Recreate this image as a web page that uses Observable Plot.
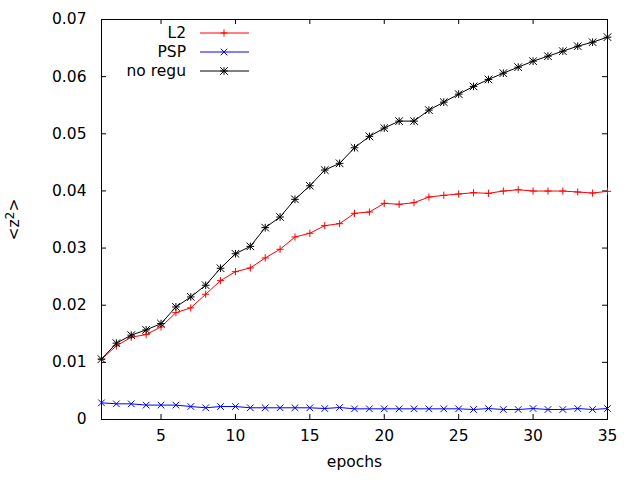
<!DOCTYPE html>
<html>
<head>
<meta charset="utf-8">
<script src="https://cdn.jsdelivr.net/npm/d3@7"></script>
<script src="https://cdn.jsdelivr.net/npm/@observablehq/plot@0.6"></script>
<style>
  html, body { margin: 0; padding: 0; background: #fff; }
  #wrap { position: relative; width: 640px; height: 480px; }
  #legend { position: absolute; left: 0; top: 0; }
</style>
</head>
<body>
<div id="wrap"></div>
<script>
const epochs = [1,2,3,4,5,6,7,8,9,10,11,12,13,14,15,16,17,18,19,20,21,22,23,24,25,26,27,28,29,30,31,32,33,34,35];
const l2 = [0.01056,0.01288,0.0144,0.01486,0.0162,0.0187,0.01953,0.02192,0.0243,0.02587,0.02652,0.02827,0.02979,0.03194,0.03259,0.03392,0.03427,0.03608,0.03631,0.03783,0.03766,0.03794,0.03893,0.03923,0.03946,0.03969,0.03958,0.03998,0.04021,0.03998,0.03998,0.03998,0.03981,0.03963,0.03993];
const psp = [0.00292,0.00274,0.00274,0.00252,0.00252,0.00252,0.00227,0.00205,0.00227,0.00227,0.00205,0.00205,0.00205,0.00205,0.00205,0.00192,0.0021,0.00187,0.00187,0.00187,0.00187,0.00187,0.00187,0.00187,0.00187,0.00175,0.00192,0.00175,0.00175,0.00192,0.00175,0.00175,0.00192,0.00175,0.00192];
const noRegu = [0.01056,0.01336,0.01476,0.01568,0.01678,0.0197,0.02145,0.0235,0.02647,0.029,0.0303,0.03357,0.03544,0.03853,0.0409,0.04365,0.04483,0.04755,0.04955,0.051,0.05222,0.05222,0.05414,0.05554,0.05694,0.05829,0.05951,0.06061,0.06166,0.06271,0.06358,0.06446,0.06533,0.06603,0.06691];
const seriesNames = ["L2", "PSP", "no regu"];
const seriesColors = ["#ff0000", "#0000ff", "#000000"];
const xTicks = [5,10,15,20,25,30,35];
const yTicks = [0,0.01,0.02,0.03,0.04,0.05,0.06,0.07];
const xLabel = "epochs";
const yLabelParts = ["<z", "2", ">"];

const FONT = "DejaVu Sans, sans-serif";
const FS = 15.5;

const plusSym = {draw(ctx, size) { const r = Math.sqrt(size / Math.PI); ctx.moveTo(-r, 0); ctx.lineTo(r, 0); ctx.moveTo(0, -r); ctx.lineTo(0, r); }};
const timesSym = {draw(ctx, size) { const r = Math.sqrt(size / Math.PI); ctx.moveTo(-r, -r); ctx.lineTo(r, r); ctx.moveTo(-r, r); ctx.lineTo(r, -r); }};
const starSym = {draw(ctx, size) { const r = Math.sqrt(size / Math.PI); ctx.moveTo(-r, 0); ctx.lineTo(r, 0); ctx.moveTo(0, -r); ctx.lineTo(0, r); ctx.moveTo(-r, -r); ctx.lineTo(r, r); ctx.moveTo(-r, r); ctx.lineTo(r, -r); }};
const symbols = [plusSym, timesSym, starSym];
const symR = [3.6, 3.3, 3.8];

const values = [l2, psp, noRegu];
const data = [];
seriesNames.forEach((name, s) => epochs.forEach((e, i) => data.push({epoch: e, value: values[s][i], series: name})));

const W = 640, H = 480, mL = 101, mR = 33, mT = 19, mB = 61;
const innerH = H - mT - mB;
const innerW = W - mL - mR;
const TL = 5;
const yLabelText = yLabelParts.join("");

const marks = [
  Plot.frame({stroke: "#000", strokeWidth: 1}),
  Plot.tickX(xTicks, {x: d => d, insetTop: innerH - TL, stroke: "#000"}),
  Plot.tickX(xTicks, {x: d => d, insetBottom: innerH - TL, stroke: "#000"}),
  Plot.tickY(yTicks, {y: d => d, insetRight: innerW - TL, stroke: "#000"}),
  Plot.tickY(yTicks, {y: d => d, insetLeft: innerW - TL, stroke: "#000"}),
  Plot.axisX(xTicks, {tickSize: 0, tickPadding: 10, fontSize: FS, fontFamily: FONT, fill: "#000", label: null}),
  Plot.axisY(yTicks, {tickSize: 0, tickPadding: 15, fontSize: FS, fontFamily: FONT, fill: "#000", label: null, tickFormat: d => d === 0 ? "0" : d3.format(".2f")(d)}),
  Plot.text([xLabel], {text: d => d, frameAnchor: "bottom", dy: 47, fontSize: FS, fontFamily: FONT, fill: "#000"}),
  Plot.text([yLabelText], {text: d => d, frameAnchor: "left", dx: -87, dy: 21, textAnchor: "start", rotate: -90, fontSize: FS, fontFamily: FONT, fill: "#000"})
];
seriesNames.forEach((name, s) => {
  const d = data.filter(r => r.series === name);
  marks.push(Plot.line(d, {x: "epoch", y: "value", stroke: seriesColors[s], strokeWidth: 1}));
  marks.push(Plot.dot(d, {x: "epoch", y: "value", symbol: () => symbols[s], r: symR[s], stroke: seriesColors[s], fill: "none", strokeWidth: 1}));
});

const chart = Plot.plot({
  width: W, height: H,
  marginLeft: mL, marginRight: mR, marginTop: mT, marginBottom: mB,
  style: {background: "#fff", fontFamily: FONT, fontSize: FS + "px"},
  x: {domain: [1, 35]},
  y: {domain: [0, 0.07]},
  symbol: {range: symbols},
  marks
});
document.getElementById("wrap").appendChild(chart);

// Superscript for the y label
d3.select(chart).selectAll("text").filter(function() { return this.textContent === yLabelText; }).each(function() {
  const t = d3.select(this);
  t.text(null);
  t.append("tspan").text(yLabelParts[0]);
  t.append("tspan").attr("dy", "-0.45em").attr("font-size", "0.8em").text(yLabelParts[1]);
  t.append("tspan").attr("dy", "0.36em").text(yLabelParts[2]);
});

// Legend overlay
const leg = d3.select("#wrap").append("svg").attr("id", "legend").attr("width", W).attr("height", 90)
  .style("pointer-events", "none");
const rowY = [33, 52, 71];
seriesNames.forEach((name, s) => {
  const g = leg.append("g");
  g.append("text").attr("x", 186).attr("y", rowY[s]).attr("text-anchor", "end").attr("dominant-baseline", "central")
    .attr("font-family", FONT).attr("font-size", FS).attr("fill", "#000").text(name);
  g.append("line").attr("x1", 200).attr("x2", 249).attr("y1", rowY[s]).attr("y2", rowY[s])
    .attr("stroke", seriesColors[s]).attr("stroke-width", 1);
  g.append("path").attr("transform", `translate(224,${rowY[s]})`)
    .attr("d", d3.symbol(symbols[s], Math.PI * symR[s] * symR[s])())
    .attr("stroke", seriesColors[s]).attr("fill", "none").attr("stroke-width", 1);
});
</script>
</body>
</html>
